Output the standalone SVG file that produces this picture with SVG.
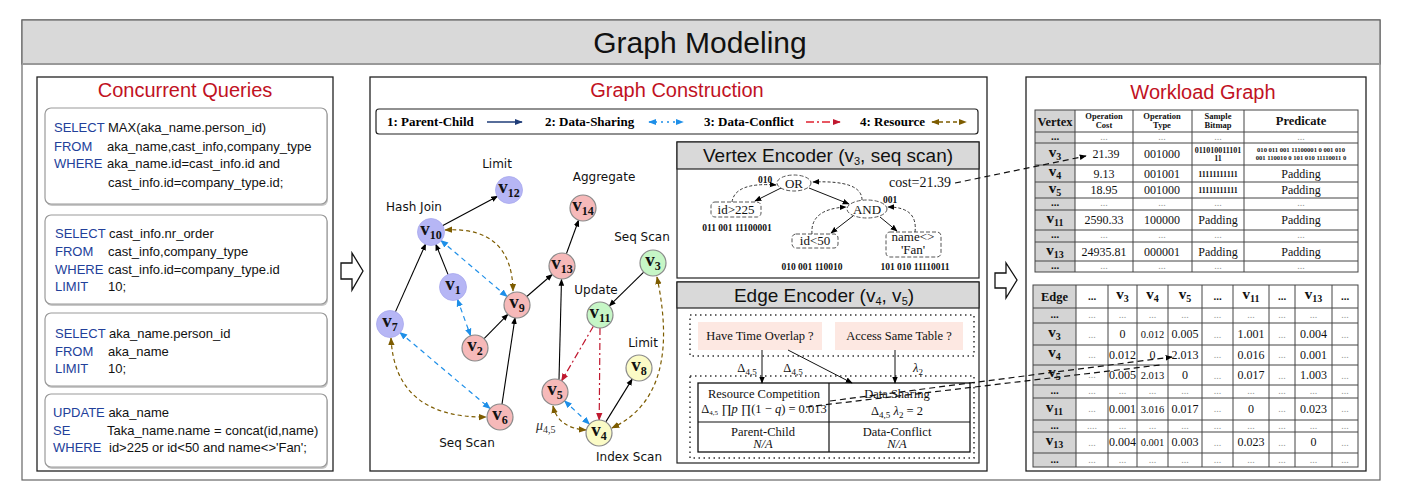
<svg xmlns="http://www.w3.org/2000/svg" width="1401" height="492" viewBox="0 0 1401 492">
<style>
.frame{fill:#fff;stroke:#222;stroke-width:1.3}
.ttl{font-family:"Liberation Sans",Arial,sans-serif;font-size:20px;fill:#c1121f;text-anchor:middle}
.q{font-family:"Liberation Sans",Arial,sans-serif;font-size:13px;fill:#111}
.kw{fill:#22409a}
.qbox{fill:#fff;stroke:#9a9a9a;stroke-width:1.2}
.qsh{fill:#c8c8c8}
.leg{font-family:"Liberation Serif","Times New Roman",serif;font-size:13px;font-weight:bold;fill:#000}
.lbl{font-family:"DejaVu Sans",sans-serif;font-size:12px;fill:#111;text-anchor:middle}
.lav{fill:#b6b6f5;stroke:#a8a8ee;stroke-width:0.8}
.pink{fill:#f6b9b9;stroke:#8a8a8a;stroke-width:1.2}
.green{fill:#c6f6c6;stroke:#8a8a8a;stroke-width:1.2}
.yel{fill:#fbfbc6;stroke:#8a8a8a;stroke-width:1.2}
.vl{font-family:"Liberation Serif","Times New Roman",serif;font-size:19px;font-weight:bold;fill:#111;text-anchor:middle}
.sub{font-size:12px}
.pc{stroke:#000;stroke-width:1.1;fill:none;marker-end:url(#mBlack)}
.ds{stroke:#1e8fe8;stroke-width:1.2;fill:none;stroke-dasharray:5 4;marker-start:url(#mBlue);marker-end:url(#mBlue)}
.dc{stroke:#c0182f;stroke-width:1.2;fill:none;stroke-dasharray:7 3 2 3;marker-end:url(#mRed)}
.rs{stroke:#7d5c00;stroke-width:1.2;fill:none;stroke-dasharray:4 3;marker-start:url(#mBrown);marker-end:url(#mBrown)}
.hdr{fill:#d9d9d9;stroke:#222;stroke-width:1.2}
.enc{font-family:"Liberation Sans",Arial,sans-serif;font-size:19px;fill:#111;text-anchor:middle}
.tr{font-family:"Liberation Serif","Times New Roman",serif;font-size:13px;fill:#111;text-anchor:middle}
.bits{font-family:"Liberation Serif","Times New Roman",serif;font-size:9.5px;font-weight:bold;fill:#111;text-anchor:middle}
.dsh{fill:#fff;stroke:#555;stroke-width:1;stroke-dasharray:4 2}
.dash{stroke:#111;stroke-width:1.2;fill:none;stroke-dasharray:6 4}
.dashA{stroke:#111;stroke-width:1.2;fill:none;stroke-dasharray:6 4;marker-end:url(#mBlack)}
.tarr{stroke:#111;stroke-width:1;fill:none;marker-end:url(#mBlack)}
.tarrd{stroke:#333;stroke-width:1;fill:none;stroke-dasharray:3 2;marker-end:url(#mBlack)}
.dot{fill:none;stroke:#333;stroke-width:1.5;stroke-dasharray:1.5 3.5}
.cm{font-family:"Liberation Serif","Times New Roman",serif;font-size:12.5px;fill:#111;text-anchor:middle}
.grid{fill:none;stroke:#444;stroke-width:1}
.gcol{fill:#d4d4d4}
.tv{font-family:"Liberation Serif","Times New Roman",serif;font-size:12px;fill:#111;text-anchor:middle}
.tvs{font-family:"Liberation Serif","Times New Roman",serif;font-size:10.5px;fill:#111;text-anchor:middle}
.td{font-family:"Liberation Serif","Times New Roman",serif;font-size:10px;fill:#999;text-anchor:middle}
.tdb{font-family:"Liberation Serif","Times New Roman",serif;font-size:11px;font-weight:bold;fill:#111;text-anchor:middle}
.th{font-family:"Liberation Serif","Times New Roman",serif;font-size:8.5px;font-weight:bold;fill:#111;text-anchor:middle}
.thb{font-family:"Liberation Serif","Times New Roman",serif;font-size:12.5px;font-weight:bold;fill:#111;text-anchor:middle}
.tvv{font-family:"Liberation Serif","Times New Roman",serif;font-size:15px;font-weight:bold;fill:#111;text-anchor:middle}
.tvv .sub{font-size:10px}
.tbit{font-family:"Liberation Serif","Times New Roman",serif;font-size:8px;font-weight:bold;fill:#111;text-anchor:middle}
.tpr{font-family:"Liberation Serif","Times New Roman",serif;font-size:6.6px;font-weight:bold;fill:#111;text-anchor:middle}
.hol{fill:#fff;stroke:#111;stroke-width:1.3}
</style>
<defs>
<marker id="mBlack" viewBox="0 0 10 10" refX="9" refY="5" markerWidth="7" markerHeight="7" markerUnits="userSpaceOnUse" orient="auto-start-reverse"><path d="M0,1 L10,5 L0,9 z" fill="#000"/></marker>
<marker id="mBlue" viewBox="0 0 10 10" refX="9" refY="5" markerWidth="8" markerHeight="8" markerUnits="userSpaceOnUse" orient="auto-start-reverse"><path d="M0,1 L10,5 L0,9 z" fill="#1e8fe8"/></marker>
<marker id="mRed" viewBox="0 0 10 10" refX="9" refY="5" markerWidth="8" markerHeight="8" markerUnits="userSpaceOnUse" orient="auto-start-reverse"><path d="M0,1 L10,5 L0,9 z" fill="#c0182f"/></marker>
<marker id="mBrown" viewBox="0 0 10 10" refX="9" refY="5" markerWidth="8" markerHeight="8" markerUnits="userSpaceOnUse" orient="auto-start-reverse"><path d="M0,1 L10,5 L0,9 z" fill="#7d5c00"/></marker>
<marker id="mNavy" viewBox="0 0 10 10" refX="9" refY="5" markerWidth="8" markerHeight="8" markerUnits="userSpaceOnUse" orient="auto-start-reverse"><path d="M0,1 L10,5 L0,9 z" fill="#1f3c78"/></marker>
</defs>

<!-- outer frame & header -->
<rect x="22" y="20" width="1358" height="460" fill="#fff" stroke="#666" stroke-width="1.2"/>
<rect x="22" y="20" width="1358" height="44" fill="#d9d9d9" stroke="#666" stroke-width="1.2"/>
<line x1="22" y1="64" x2="1380" y2="64" stroke="#999" stroke-width="2"/>
<text x="700" y="53" font-family="Liberation Sans, Arial, sans-serif" font-size="30" text-anchor="middle" fill="#111">Graph Modeling</text>

<!-- left panel -->
<g id="panel-queries">
<rect class="frame" x="37" y="77" width="296" height="394"/>
<text class="ttl" x="185" y="97">Concurrent Queries</text>
<g id="query1">
<rect class="qsh" x="46" y="110" width="282" height="96" rx="6"/>
<rect class="qbox" x="45" y="108" width="282" height="96" rx="6"/>
<text class="q" x="54" y="132"><tspan class="kw">SELECT</tspan> MAX(aka_name.person_id)</text>
<text class="q" x="54" y="151"><tspan class="kw">FROM</tspan></text><text class="q" x="107" y="151">aka_name,cast_info,company_type</text>
<text class="q" x="54" y="168"><tspan class="kw">WHERE</tspan></text><text class="q" x="107" y="168">aka_name.id=cast_info.id and</text>
<text class="q" x="108" y="187">cast_info.id=company_type.id;</text>
</g>
<g id="query2">
<rect class="qsh" x="46" y="217" width="282" height="89" rx="6"/>
<rect class="qbox" x="45" y="215" width="282" height="89" rx="6"/>
<text class="q" x="55" y="238"><tspan class="kw">SELECT</tspan> cast_info.nr_order</text>
<text class="q" x="55" y="256"><tspan class="kw">FROM</tspan></text><text class="q" x="108" y="256">cast_info,company_type</text>
<text class="q" x="55" y="274"><tspan class="kw">WHERE</tspan></text><text class="q" x="108" y="274">cast_info.id=company_type.id</text>
<text class="q" x="55" y="291"><tspan class="kw">LIMIT</tspan></text><text class="q" x="108" y="291">10;</text>
</g>
<g id="query3">
<rect class="qsh" x="46" y="315" width="282" height="73" rx="6"/>
<rect class="qbox" x="45" y="313" width="282" height="73" rx="6"/>
<text class="q" x="55" y="338"><tspan class="kw">SELECT</tspan> aka_name.person_id</text>
<text class="q" x="55" y="356"><tspan class="kw">FROM</tspan></text><text class="q" x="108" y="356">aka_name</text>
<text class="q" x="55" y="373"><tspan class="kw">LIMIT</tspan></text><text class="q" x="108" y="373">10;</text>
</g>
<g id="query4">
<rect class="qsh" x="46" y="396" width="282" height="73" rx="6"/>
<rect class="qbox" x="45" y="394" width="282" height="73" rx="6"/>
<text class="q" x="53" y="417"><tspan class="kw">UPDATE</tspan> aka_name</text>
<text class="q" x="53" y="435"><tspan class="kw">SE</tspan></text><text class="q" x="107" y="435">Taka_name.name = concat(id,name)</text>
<text class="q" x="53" y="452"><tspan class="kw">WHERE</tspan></text><text class="q" x="109" y="452">id&gt;225 or id&lt;50 and name&lt;&gt;'Fan';</text>
</g>
</g>

<!-- hollow arrows -->
<path class="hol" d="M341,263 H352 V253 L363,271 L352,290 V279 H341 Z"/>
<path class="hol" d="M995,273 H1006 V263 L1017,280 L1006,298 V288 H995 Z"/>

<!-- middle panel -->
<g id="panel-construction">
<rect class="frame" x="370" y="77" width="617" height="394"/>
<text class="ttl" x="677" y="97">Graph Construction</text>
<g id="legend">
<rect x="376" y="109" width="602" height="25" rx="3" fill="#fff" stroke="#222" stroke-width="1.2"/>
<text class="leg" x="387" y="126">1: Parent-Child</text>
<line x1="487" y1="122" x2="522" y2="122" stroke="#1f3c78" stroke-width="1.5" marker-end="url(#mNavy)"/>
<text class="leg" x="545" y="126">2: Data-Sharing</text>
<line x1="649" y1="122" x2="683" y2="122" stroke="#1e8fe8" stroke-width="1.5" stroke-dasharray="2 4" marker-start="url(#mBlue)" marker-end="url(#mBlue)"/>
<text class="leg" x="704" y="126">3: Data-Conflict</text>
<line x1="806" y1="122" x2="840" y2="122" stroke="#e0202f" stroke-width="1.5" stroke-dasharray="8 3 2 3" marker-end="url(#mRed)"/>
<text class="leg" x="860" y="126">4: Resource</text>
<line x1="932" y1="122" x2="966" y2="122" stroke="#7d5c00" stroke-width="1.5" stroke-dasharray="4 3" marker-start="url(#mBrown)" marker-end="url(#mBrown)"/>
</g>

<!-- connectors -->
<g id="connectors">
<line class="pc" x1="442.4" y1="225.8" x2="497.6" y2="196.2"/>
<line class="pc" x1="395.3" y1="312.1" x2="425.7" y2="243.9"/>
<line class="pc" x1="448.2" y1="274.9" x2="435.8" y2="244.1"/>
<line class="pc" x1="526.8" y1="296.5" x2="552.2" y2="274.5"/>
<line class="pc" x1="566.4" y1="253.8" x2="578.6" y2="220.2"/>
<line class="pc" x1="484.1" y1="338.7" x2="507.9" y2="314.3"/>
<line class="pc" x1="502" y1="404.2" x2="515" y2="317.8"/>
<line class="pc" x1="559" y1="379.5" x2="561.5" y2="279.5"/>
<line class="pc" x1="643.7" y1="272.1" x2="609.3" y2="305.9"/>
<line class="pc" x1="605.8" y1="421.9" x2="632.2" y2="379.1"/>
<line class="ds" x1="440.9" y1="240.4" x2="507.1" y2="296.6"/>
<line class="ds" x1="457.4" y1="299.2" x2="470.6" y2="335.8"/>
<line class="ds" x1="399.9" y1="332.4" x2="490.1" y2="408.6"/>
<line class="ds" x1="564.5" y1="400.9" x2="589.5" y2="424.1"/>
<line class="dc" x1="593.4" y1="326.2" x2="561.6" y2="380.8"/>
<line class="dc" x1="600" y1="328" x2="599.2" y2="420"/>
<path class="rs" d="M445,230 Q512,226 513,291"/>
<path class="rs" d="M391,338 Q395,418 486,417"/>
<path class="rs" d="M553,406 Q558,428 586,430"/>
<path class="rs" d="M657,277 C668,330 672,400 612,428"/>
</g>

<!-- nodes -->
<g id="node-v12"><circle class="lav" cx="509" cy="190" r="13.5"/><text class="vl" x="509" y="193">v<tspan class="sub" dy="4">12</tspan></text></g>
<g id="node-v10"><circle class="lav" cx="431" cy="232" r="13.5"/><text class="vl" x="431" y="235">v<tspan class="sub" dy="4">10</tspan></text></g>
<g id="node-v1"><circle class="lav" cx="453" cy="287" r="13.5"/><text class="vl" x="453" y="290">v<tspan class="sub" dy="4">1</tspan></text></g>
<g id="node-v7"><circle class="lav" cx="390" cy="324" r="13.5"/><text class="vl" x="390" y="327">v<tspan class="sub" dy="4">7</tspan></text></g>
<g id="node-v9"><circle class="pink" cx="517" cy="305" r="13"/><text class="vl" x="517" y="308">v<tspan class="sub" dy="4">9</tspan></text></g>
<g id="node-v2"><circle class="pink" cx="475" cy="348" r="13"/><text class="vl" x="475" y="351">v<tspan class="sub" dy="4">2</tspan></text></g>
<g id="node-v6"><circle class="pink" cx="500" cy="417" r="13"/><text class="vl" x="500" y="420">v<tspan class="sub" dy="4">6</tspan></text></g>
<g id="node-v13"><circle class="pink" cx="562" cy="266" r="13"/><text class="vl" x="562" y="269">v<tspan class="sub" dy="4">13</tspan></text></g>
<g id="node-v14"><circle class="pink" cx="583" cy="208" r="13"/><text class="vl" x="583" y="211">v<tspan class="sub" dy="4">14</tspan></text></g>
<g id="node-v5"><circle class="pink" cx="555" cy="392" r="13"/><text class="vl" x="555" y="395">v<tspan class="sub" dy="4">5</tspan></text></g>
<g id="node-v3"><circle class="green" cx="653" cy="263" r="13"/><text class="vl" x="653" y="266">v<tspan class="sub" dy="4">3</tspan></text></g>
<g id="node-v11"><circle class="green" cx="600" cy="315" r="13"/><text class="vl" x="600" y="318">v<tspan class="sub" dy="4">11</tspan></text></g>
<g id="node-v8"><circle class="yel" cx="639" cy="368" r="13"/><text class="vl" x="639" y="371">v<tspan class="sub" dy="4">8</tspan></text></g>
<g id="node-v4"><circle class="yel" cx="599" cy="433" r="13"/><text class="vl" x="599" y="436">v<tspan class="sub" dy="4">4</tspan></text></g>

<g id="graph-labels">
<text class="lbl" x="497" y="168">Limit</text>
<text class="lbl" x="414" y="211">Hash Join</text>
<text class="lbl" x="604" y="181">Aggregate</text>
<text class="lbl" x="642" y="241">Seq Scan</text>
<text class="lbl" x="596" y="294">Update</text>
<text class="lbl" x="643" y="347">Limit</text>
<text class="lbl" x="467" y="447">Seq Scan</text>
<text class="lbl" x="629" y="461">Index Scan</text>
<text x="536" y="430" font-family="Liberation Serif, serif" font-style="italic" font-size="14" fill="#333">μ<tspan font-size="10" font-style="normal" dy="3">4,5</tspan></text>
</g>

<!-- vertex encoder -->
<g id="vertex-encoder">
<rect x="677" y="142" width="302" height="136" fill="#fff" stroke="#222" stroke-width="1.2"/>
<rect class="hdr" x="677" y="142" width="302" height="27"/>
<text class="enc" x="828" y="162">Vertex Encoder (v<tspan font-size="11" dy="3">3</tspan><tspan dy="-3">, seq scan)</tspan></text>
<ellipse class="dsh" cx="794" cy="183" rx="17" ry="8"/>
<text class="tr" x="794" y="188">OR</text>
<ellipse class="dsh" cx="867" cy="209" rx="20" ry="9"/>
<text class="tr" x="867" y="214">AND</text>
<rect class="dsh" x="711" y="202" width="50" height="15" rx="4"/>
<text class="tr" x="736" y="214">id&gt;225</text>
<rect class="dsh" x="792" y="234" width="46" height="14" rx="4"/>
<text class="tr" x="815" y="245">id&lt;50</text>
<rect class="dsh" x="886" y="232" width="55" height="25" rx="4"/>
<text class="tr" x="913" y="241" font-size="10.5">name&lt;&gt;</text>
<text class="tr" x="913" y="254" font-size="10.5">'Fan'</text>
<text class="bits" x="765" y="183">010</text>
<text class="bits" x="890" y="203">001</text>
<text class="bits" x="737" y="231">011 001 11100001</text>
<text class="bits" x="812" y="270">010 001 110010</text>
<text class="bits" x="915" y="270">101 010 11110011</text>
<text x="920" y="187" font-family="Liberation Serif, serif" font-size="14" text-anchor="middle" fill="#111">cost=21.39</text>
<line class="tarr" x1="781" y1="188" x2="755" y2="201"/>
<line class="tarr" x1="809" y1="188" x2="849" y2="204"/>
<line class="tarr" x1="853" y1="216" x2="831" y2="233"/>
<line class="tarr" x1="880" y1="217" x2="897" y2="231"/>
<path class="tarrd" d="M732,202 Q735,182 776,185"/>
<path class="tarrd" d="M862,200 Q862,180 813,182"/>
<path class="tarrd" d="M812,234 Q810,209 846,207"/>
<path class="tarrd" d="M915,232 Q918,207 888,207"/>
</g>

<!-- edge encoder -->
<g id="edge-encoder">
<rect x="677" y="282" width="302" height="181" fill="#fff" stroke="#222" stroke-width="1.2"/>
<rect class="hdr" x="677" y="282" width="302" height="26"/>
<text class="enc" x="824" y="302">Edge Encoder (v<tspan font-size="11" dy="3">4</tspan><tspan dy="-3">, v</tspan><tspan font-size="11" dy="3">5</tspan><tspan dy="-3">)</tspan></text>
<rect class="dot" x="690" y="315" width="284" height="41"/>
<rect x="698" y="322" width="124" height="28" fill="#fde8e2"/>
<rect x="835" y="322" width="128" height="28" fill="#fde8e2"/>
<text class="cm" x="760" y="340">Have Time Overlap ?</text>
<text class="cm" x="899" y="340">Access Same Table ?</text>
<text class="cm" x="747" y="372" font-size="13">Δ<tspan font-size="9" dy="3">4,5</tspan></text>
<text class="cm" x="793" y="372" font-size="13">Δ<tspan font-size="9" dy="3">4,5</tspan></text>
<text class="cm" x="918" y="372" font-size="13" font-style="italic">λ<tspan font-size="9" font-style="normal" dy="3">2</tspan></text>
<rect class="dot" x="690" y="376" width="284" height="82"/>
<rect x="698" y="383" width="272" height="69" fill="#fff" stroke="#111" stroke-width="1.3"/>
<line x1="829" y1="383" x2="829" y2="452" stroke="#111" stroke-width="1.2"/>
<line x1="698" y1="422" x2="970" y2="422" stroke="#111" stroke-width="1.2"/>
<line class="tarr" x1="762" y1="350" x2="762" y2="383"/>
<line class="tarr" x1="788" y1="350" x2="852" y2="383"/>
<line class="tarr" x1="895" y1="350" x2="895" y2="383"/>
<text class="cm" x="764" y="398">Resource  Competition</text>
<text class="cm" x="764" y="413" font-size="10">Δ<tspan font-size="7" dy="2">4,5</tspan><tspan dy="-2"> ∏</tspan><tspan font-style="italic">p</tspan> ∏(1 − <tspan font-style="italic">q</tspan>) = 0.013</text>
<text class="cm" x="897" y="398">Data Sharing</text>
<text class="cm" x="897" y="415" font-size="13">Δ<tspan font-size="9" dy="3">4,5</tspan><tspan dy="-3" font-style="italic"> λ</tspan><tspan font-size="9" dy="3">2</tspan><tspan dy="-3"> = 2</tspan></text>
<text class="cm" x="763" y="436">Parent-Child</text>
<text class="cm" x="763" y="448" font-style="italic">N/A</text>
<text class="cm" x="897" y="436">Data-Conflict</text>
<text class="cm" x="897" y="448" font-style="italic">N/A</text>
</g>
</g>

<!-- right panel -->
<g id="panel-workload">
<rect class="frame" x="1026" y="77" width="340" height="394"/>
<text class="ttl" x="1203" y="99">Workload Graph</text>

<g id="vertex-table">
<rect class="gcol" x="1035" y="110" width="40" height="162"/>
<rect class="grid" x="1035" y="110" width="323" height="162"/>
<g stroke="#444" stroke-width="1">
<line x1="1075" y1="110" x2="1075" y2="272"/><line x1="1133" y1="110" x2="1133" y2="272"/><line x1="1192" y1="110" x2="1192" y2="272"/><line x1="1244" y1="110" x2="1244" y2="272"/>
<line x1="1035" y1="132" x2="1358" y2="132"/><line x1="1035" y1="143" x2="1358" y2="143"/><line x1="1035" y1="165" x2="1358" y2="165"/><line x1="1035" y1="182" x2="1358" y2="182"/><line x1="1035" y1="198" x2="1358" y2="198"/><line x1="1035" y1="210" x2="1358" y2="210"/><line x1="1035" y1="230" x2="1358" y2="230"/><line x1="1035" y1="242" x2="1358" y2="242"/><line x1="1035" y1="261" x2="1358" y2="261"/>
</g>
<text class="thb" x="1055" y="126">Vertex</text>
<text class="th" x="1104" y="119">Operation</text><text class="th" x="1104" y="128">Cost</text>
<text class="th" x="1162" y="119">Operation</text><text class="th" x="1162" y="128">Type</text>
<text class="th" x="1218" y="119">Sample</text><text class="th" x="1218" y="128">Bitmap</text>
<text class="thb" x="1301" y="125" font-size="11.5">Predicate</text>
<g class="td"><text x="1104" y="140">...</text><text x="1162" y="140">...</text><text x="1218" y="140">...</text><text x="1301" y="140">...</text>
<text x="1104" y="206">...</text><text x="1162" y="206">...</text><text x="1218" y="206">...</text><text x="1301" y="206">...</text>
<text x="1104" y="238">...</text><text x="1162" y="238">...</text><text x="1218" y="238">...</text><text x="1301" y="238">...</text>
<text x="1104" y="269">...</text><text x="1162" y="269">...</text><text x="1218" y="269">...</text><text x="1301" y="269">...</text></g>
<text class="tdb" x="1055" y="140">...</text><text class="tdb" x="1055" y="206">...</text><text class="tdb" x="1055" y="238">...</text><text class="tdb" x="1055" y="269">...</text>
<text class="tvv" x="1055" y="157">v<tspan class="sub" dy="3">3</tspan></text>
<text class="tvv" x="1055" y="176">v<tspan class="sub" dy="3">4</tspan></text>
<text class="tvv" x="1055" y="193">v<tspan class="sub" dy="3">5</tspan></text>
<text class="tvv" x="1055" y="223">v<tspan class="sub" dy="3">11</tspan></text>
<text class="tvv" x="1055" y="255">v<tspan class="sub" dy="3">13</tspan></text>
<text class="tv" x="1106" y="158">21.39</text><text class="tv" x="1162" y="158">001000</text>
<text class="tbit" x="1218" y="153">011010011101</text><text class="tbit" x="1218" y="161">11</text>
<text class="tpr" x="1301" y="152">010 011 001 11100001 0 001 010</text><text class="tpr" x="1301" y="160">001 110010 0 101 010 11110011 0</text>
<text class="tv" x="1104" y="178">9.13</text><text class="tv" x="1162" y="178">001001</text><text class="tbit" x="1218" y="177">11111111111</text><text class="tv" x="1301" y="178">Padding</text>
<text class="tv" x="1104" y="194">18.95</text><text class="tv" x="1162" y="194">001000</text><text class="tbit" x="1218" y="193">11111111111</text><text class="tv" x="1301" y="194">Padding</text>
<text class="tv" x="1104" y="224">2590.33</text><text class="tv" x="1162" y="224">100000</text><text class="tv" x="1218" y="224">Padding</text><text class="tv" x="1301" y="224">Padding</text>
<text class="tv" x="1104" y="256">24935.81</text><text class="tv" x="1162" y="256">000001</text><text class="tv" x="1218" y="256">Padding</text><text class="tv" x="1301" y="256">Padding</text>
</g>

<g id="edge-table">
<rect class="gcol" x="1033" y="285" width="43" height="182"/>
<rect class="grid" x="1033" y="285" width="325" height="182"/>
<g stroke="#444" stroke-width="1">
<line x1="1076" y1="285" x2="1076" y2="467"/><line x1="1108" y1="285" x2="1108" y2="467"/><line x1="1137" y1="285" x2="1137" y2="467"/><line x1="1168" y1="285" x2="1168" y2="467"/><line x1="1202" y1="285" x2="1202" y2="467"/><line x1="1233" y1="285" x2="1233" y2="467"/><line x1="1269" y1="285" x2="1269" y2="467"/><line x1="1295" y1="285" x2="1295" y2="467"/><line x1="1332" y1="285" x2="1332" y2="467"/>
<line x1="1033" y1="308" x2="1358" y2="308"/><line x1="1033" y1="323" x2="1358" y2="323"/><line x1="1033" y1="345" x2="1358" y2="345"/><line x1="1033" y1="365" x2="1358" y2="365"/><line x1="1033" y1="385" x2="1358" y2="385"/><line x1="1033" y1="398" x2="1358" y2="398"/><line x1="1033" y1="420" x2="1358" y2="420"/><line x1="1033" y1="432" x2="1358" y2="432"/><line x1="1033" y1="453" x2="1358" y2="453"/>
</g>
<text class="thb" x="1054.5" y="301">Edge</text>
<text class="tdb" x="1092" y="300">...</text>
<text class="tvv" x="1122.5" y="299">v<tspan class="sub" dy="3">3</tspan></text>
<text class="tvv" x="1152.5" y="299">v<tspan class="sub" dy="3">4</tspan></text>
<text class="tvv" x="1185" y="299">v<tspan class="sub" dy="3">5</tspan></text>
<text class="tdb" x="1217.5" y="300">...</text>
<text class="tvv" x="1251" y="299">v<tspan class="sub" dy="3">11</tspan></text>
<text class="tdb" x="1282" y="300">...</text>
<text class="tvv" x="1313.5" y="299">v<tspan class="sub" dy="3">13</tspan></text>
<text class="tdb" x="1345" y="300">...</text>
<text class="tdb" x="1054.5" y="318">...</text>
<text class="tvv" x="1054.5" y="337">v<tspan class="sub" dy="3">3</tspan></text>
<text class="tvv" x="1054.5" y="357">v<tspan class="sub" dy="3">4</tspan></text>
<text class="tvv" x="1054.5" y="377">v<tspan class="sub" dy="3">5</tspan></text>
<text class="tdb" x="1054.5" y="394">...</text>
<text class="tvv" x="1054.5" y="412">v<tspan class="sub" dy="3">11</tspan></text>
<text class="tdb" x="1054.5" y="429">...</text>
<text class="tvv" x="1054.5" y="445">v<tspan class="sub" dy="3">13</tspan></text>
<text class="tdb" x="1054.5" y="463">...</text>
<g class="td">
<text x="1092" y="318">...</text><text x="1122.5" y="318">...</text><text x="1152.5" y="318">...</text><text x="1185" y="318">...</text><text x="1217.5" y="318">...</text><text x="1251" y="318">...</text><text x="1282" y="318">...</text><text x="1313.5" y="318">...</text><text x="1345" y="318">...</text>
<text x="1092" y="338">...</text><text x="1217.5" y="338">...</text><text x="1282" y="338">...</text><text x="1345" y="338">...</text>
<text x="1092" y="358">...</text><text x="1217.5" y="358">...</text><text x="1282" y="358">...</text><text x="1345" y="358">...</text>
<text x="1092" y="378">...</text><text x="1217.5" y="379">...</text><text x="1282" y="379">...</text><text x="1345" y="379">...</text>
<text x="1092" y="394">...</text><text x="1122.5" y="394">...</text><text x="1152.5" y="394">...</text><text x="1185" y="394">...</text><text x="1217.5" y="394">...</text><text x="1251" y="394">...</text><text x="1282" y="394">...</text><text x="1313.5" y="394">...</text><text x="1345" y="394">...</text>
<text x="1092" y="412">...</text><text x="1217.5" y="412">...</text><text x="1282" y="412">...</text><text x="1345" y="412">...</text>
<text x="1092" y="429">....</text><text x="1122.5" y="429">...</text><text x="1152.5" y="429">...</text><text x="1185" y="429">...</text><text x="1217.5" y="429">...</text><text x="1251" y="429">...</text><text x="1282" y="429">...</text><text x="1313.5" y="429">...</text><text x="1345" y="429">...</text>
<text x="1092" y="446">...</text><text x="1217.5" y="446">...</text><text x="1282" y="446">...</text><text x="1345" y="446">...</text>
<text x="1092" y="463">...</text><text x="1122.5" y="463">...</text><text x="1152.5" y="463">...</text><text x="1185" y="463">...</text><text x="1217.5" y="463">...</text><text x="1251" y="463">...</text><text x="1282" y="463">...</text><text x="1313.5" y="463">...</text><text x="1345" y="463">...</text>
</g>
<text class="tv" x="1122.5" y="338">0</text><text class="tvs" x="1152.5" y="338">0.012</text><text class="tv" x="1185" y="338">0.005</text><text class="tv" x="1251" y="338">1.001</text><text class="tv" x="1313.5" y="338">0.004</text>
<text class="tv" x="1122.5" y="359">0.012</text><text class="tv" x="1152.5" y="359">0</text><text class="tv" x="1185" y="359">2.013</text><text class="tv" x="1251" y="359">0.016</text><text class="tv" x="1313.5" y="359">0.001</text>
<text class="tv" x="1122.5" y="379">0.005</text><text class="tvs" x="1152.5" y="379">2.013</text><text class="tv" x="1185" y="379">0</text><text class="tv" x="1251" y="379">0.017</text><text class="tv" x="1313.5" y="379">1.003</text>
<text class="tv" x="1122.5" y="413">0.001</text><text class="tvs" x="1152.5" y="413">3.016</text><text class="tv" x="1185" y="413">0.017</text><text class="tv" x="1251" y="413">0</text><text class="tv" x="1313.5" y="413">0.023</text>
<text class="tv" x="1122.5" y="446">0.004</text><text class="tvs" x="1152.5" y="446">0.001</text><text class="tv" x="1185" y="446">0.003</text><text class="tv" x="1251" y="446">0.023</text><text class="tv" x="1313.5" y="446">0</text>
</g>
</g>

<!-- cross-panel dashed links -->
<g id="links">
<path class="dashA" d="M955,183 L1086,156"/>
<path class="dashA" d="M830,401 L1172,357"/>
<path class="dash" d="M806,407 L1160,365"/>
</g>
</svg>
